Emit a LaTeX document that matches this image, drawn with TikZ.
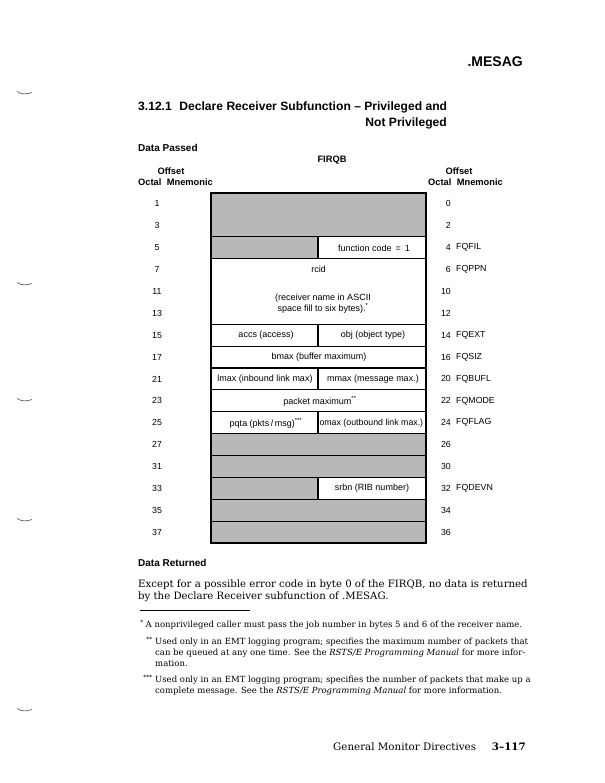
\documentclass[tikz,border=0pt]{standalone}
\usepackage{fontspec}
\setmainfont{DejaVu Serif}
\newfontfamily\hel{Liberation Sans}
\newfontfamily\bodyserif{DejaVu Serif}
\begin{document}
\begin{tikzpicture}[x=1pt,y=-1pt,
  cellt/.style={font=\hel\fontsize{9}{10.5}\selectfont, inner sep=0pt},
  numt/.style={font=\hel\fontsize{8.8}{10.5}\selectfont, inner sep=0pt},
  hdr/.style={font=\hel\bfseries\fontsize{9.3}{11}\selectfont, inner sep=0pt},
  sect/.style={font=\hel\bfseries\fontsize{10}{12}\selectfont, inner sep=0pt, anchor=west},
  bodyt/.style={font=\bodyserif\fontsize{10.15}{12}\selectfont, inner sep=0pt, anchor=base west},
  foott/.style={font=\bodyserif\fontsize{8.5}{11}\selectfont, inner sep=0pt, anchor=base west},
  shade/.style={fill=black!28},
  boxline/.style={draw=black, line width=1.1pt},
  marginmark/.style={draw=black!70, line width=0.6pt}
]
\useasboundingbox (0,0) rectangle (604,783);
\fill[white] (0,0) rectangle (604,783);

% margin marks
\foreach \yy in {93,284,400,520,710}{
  \draw[marginmark] (17,\yy-1.5) .. controls (21,\yy+1.5) and (27,\yy+1.5) .. (32,\yy-0.5);
}

% headings
\node[font=\hel\bfseries\fontsize{14}{16}\selectfont, inner sep=0pt, anchor=east] (mesag) at (523,62) {.MESAG};
\node[font=\hel\bfseries\fontsize{12.1}{14}\selectfont, inner sep=0pt, anchor=west] (title1) at (138,107) {3.12.1\hspace{0.35em} Declare Receiver Subfunction – Privileged and};
\node[font=\hel\bfseries\fontsize{12.1}{14}\selectfont, inner sep=0pt, anchor=east] (title2) at (447,123) {Not Privileged};

\node[sect] (dpassed) at (138,148) {Data Passed};
\node[hdr] (firqb) at (332,160) {FIRQB};
\node[hdr] (offl) at (171,171) {Offset};
\node[hdr, anchor=west] (octl) at (138,182) {Octal\hspace{0.3em} Mnemonic};
\node[hdr] (offr) at (459,171) {Offset};
\node[hdr, anchor=west] (octr) at (428,182) {Octal\hspace{0.3em} Mnemonic};

% table geometry
\def\L{211}\def\M{318}\def\R{426}
\def\rh{21.875}
% shaded regions
\fill[shade] (\L,193) rectangle (\R,236.75);
\fill[shade] (\L,236.75) rectangle (\M,258.6);
\fill[shade] (\L,433.6) rectangle (\R,477.4);
\fill[shade] (\L,477.4) rectangle (\M,499.25);
\fill[shade] (\L,499.25) rectangle (\R,543);

% outline and dividers
\draw[boxline] (\L,193) rectangle (\R,543);
\foreach \yy in {236.75,258.6,324.25,346.1,368,389.9,411.75,433.6,455.5,477.4,499.25,521.1}{
  \draw[boxline] (\L,\yy) -- (\R,\yy);
}
\draw[boxline] (\M,236.75) -- (\M,258.6);
\draw[boxline] (\M,324.25) -- (\M,346.1);
\draw[boxline] (\M,368) -- (\M,389.9);
\draw[boxline] (\M,411.75) -- (\M,433.6);
\draw[boxline] (\M,477.4) -- (\M,499.25);

% cell texts
\node[cellt] (fcode) at (374,248) {function code \,=\, 1};
\node[cellt] (rcid) at (318.5,269.5) {rcid};
\node[cellt, align=center] (rname) at (323,303.5) {(receiver name in ASCII\\space fill to six bytes).\textsuperscript{*}};
\node[cellt] (accs) at (266,335.5) {accs (access)};
\node[cellt] (obj) at (373,335.5) {obj (object type)};
\node[cellt] (bmax) at (319,357) {bmax (buffer maximum)};
\node[cellt] (lmax) at (265,379) {lmax (inbound link max)};
\node[cellt] (mmax) at (373,379) {mmax (message max.)};
\node[cellt] (pmax) at (320,401) {packet maximum\textsuperscript{**}};
\node[cellt] (pqta) at (266,423) {pqta (pkts\,/\,msg)\textsuperscript{***}};
\node[cellt, anchor=west, font=\hel\fontsize{8.8}{10.5}\selectfont] (omax) at (319.3,423) {omax (outbound link max.)};
\node[cellt] (srbn) at (372,488.5) {srbn (RIB number)};

% left offsets
\foreach \n [count=\k from 0] in {1,3,5,7,11,13,15,17,21,23,25,27,31,33,35,37}{
  \node[numt] (lo\n) at (157,{193+\rh*(\k+0.5)}) {\n};
}
% right offsets
\foreach \n [count=\k from 0] in {0,2,4,6,10,12,14,16,20,22,24,26,30,32,34,36}{
  \node[numt, anchor=east] (ro\n) at (451,{193+\rh*(\k+0.5)}) {\n};
}
% mnemonics
\node[numt, anchor=west] (mfil) at (456,{193+\rh*2.5}) {FQFIL};
\node[numt, anchor=west] (mppn) at (456,{193+\rh*3.5}) {FQPPN};
\node[numt, anchor=west] (mext) at (456,{193+\rh*6.5}) {FQEXT};
\node[numt, anchor=west] (msiz) at (456,{193+\rh*7.5}) {FQSIZ};
\node[numt, anchor=west] (mbufl) at (456,{193+\rh*8.5}) {FQBUFL};
\node[numt, anchor=west] (mmode) at (456,{193+\rh*9.5}) {FQMODE};
\node[numt, anchor=west] (mflag) at (456,{193+\rh*10.5}) {FQFLAG};
\node[numt, anchor=west] (mdevn) at (456,{193+\rh*13.5}) {FQDEVN};

% data returned
\node[sect] (dret) at (138,563) {Data Returned};
\node[bodyt] (p1) at (138,587) {Except for a possible error code in byte 0 of the FIRQB, no data is returned};
\node[bodyt] (p2) at (138,599) {by the Declare Receiver subfunction of .MESAG.};

% footnote rule
\draw[line width=0.8pt] (140,610) -- (250,610);

% footnotes
\node[foott, anchor=base east] (s1) at (144,627) {\textsuperscript{*}};
\node[foott] (f1) at (145.5,627) {A nonprivileged caller must pass the job number in bytes 5 and 6 of the receiver name.};
\node[foott, anchor=base east] (s2) at (153,644.5) {\textsuperscript{**}};
\node[foott] (f2a) at (155,644.5) {Used only in an EMT logging program; specifies the maximum number of packets that};
\node[foott] (f2b) at (155,655.5) {can be queued at any one time. See the \textit{RSTS/E Programming Manual} for more infor-};
\node[foott] (f2c) at (155,666.5) {mation.};
\node[foott, anchor=base east] (s3) at (153,682) {\textsuperscript{***}};
\node[foott] (f3a) at (155,682) {Used only in an EMT logging program; specifies the number of packets that make up a};
\node[foott] (f3b) at (155,693) {complete message. See the \textit{RSTS/E Programming Manual} for more information.};

% page footer
\node[font=\bodyserif\fontsize{10.3}{12}\selectfont, inner sep=0pt, anchor=base west] (pfoot) at (333,750) {General Monitor Directives};
\node[font=\bodyserif\bfseries\fontsize{10.3}{12}\selectfont, inner sep=0pt, anchor=base east] (pnum) at (526,750) {3–117};
\end{tikzpicture}
\end{document}
